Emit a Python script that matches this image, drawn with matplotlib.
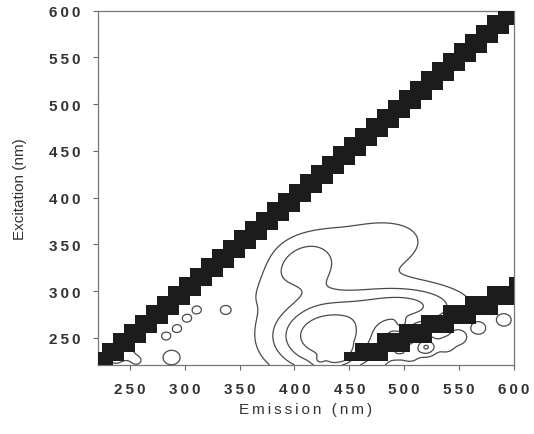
import numpy as np
import matplotlib
matplotlib.use("Agg")
import matplotlib.pyplot as plt
from matplotlib.ticker import FixedLocator, FuncFormatter

plt.rcParams['font.family'] = ['Liberation Sans', 'DejaVu Sans']

# Axis ranges (nm)
em_range = (221, 600)
ex_range = (221, 600)
x_ticks = [250, 300, 350, 400, 450, 500, 550, 600]
y_ticks = [250, 300, 350, 400, 450, 500, 550, 600]

# Fluorescence components: centre (em, ex), widths, amplitude, tilt (deg)
comp_em = [430, 410, 468, 500, 385]
comp_ex = [252, 326, 345, 284, 315]
comp_sem = [32, 20, 45, 35, 40]
comp_sex = [25, 20, 26, 15, 12]
comp_amp = [1.00, 0.30, 0.20, 0.55, 0.10]
comp_tilt = [0, 0, 15, 0, 45]

# Small isolated features (em, ex, amplitude, width)
spot_em = [311, 302, 293, 283, 337, 288, 237, 248, 256, 423, 435, 443, 447,
           495, 506, 520, 538, 568, 591, 550, 498]
spot_ex = [280, 271, 260, 252, 280, 229, 229, 233, 226, 225, 226, 230, 239,
           236, 232, 240, 242, 260, 269, 250, 264]
spot_amp = [0.24, 0.24, 0.24, 0.24, 0.22, 0.22, 0.25, 0.22, 0.2, 0.22, 0.22, 0.4, 0.22,
            0.22, 0.22, 0.5, 0.22, 0.22, 0.2, 0.2, 0.2]
spot_w = [3.5, 3.5, 3.5, 3.5, 3.5, 7, 5, 5, 4, 4.5, 4.5, 4.5, 4, 5, 5, 6, 6, 5, 6, 6, 5]

levels = [0.12, 0.30, 0.50, 0.75]

# Scatter bands: first order (em = ex) and second order (em = 2 ex)
scatter_step = 10
first_order_halfwidth = 10
second_order_halfwidth = 20
second_order_min_ex = 230
second_order_min_em = 450

em = np.linspace(em_range[0], em_range[1], 400)
ex = np.linspace(ex_range[0], ex_range[1], 400)
EM, EX = np.meshgrid(em, ex)

field = np.zeros_like(EM)
for cx, cy, sx, sy, a, t in zip(comp_em, comp_ex, comp_sem, comp_sex, comp_amp, comp_tilt):
    th = np.deg2rad(t)
    dx, dy = EM - cx, EX - cy
    u = dx * np.cos(th) + dy * np.sin(th)
    v = -dx * np.sin(th) + dy * np.cos(th)
    field += a * np.exp(-0.5 * ((u / sx) ** 2 + (v / sy) ** 2))
for cx, cy, a, w in zip(spot_em, spot_ex, spot_amp, spot_w):
    field += a * np.exp(-0.5 * (((EM - cx) / w) ** 2 + ((EX - cy) / w) ** 2))

fig = plt.figure(figsize=(5.34, 4.35), dpi=100)
ax = fig.add_axes([98 / 534, 69 / 435, 416 / 534, 354.3 / 435])

ax.contour(EM, EX, field, levels=levels, colors='#4a4a4a', linewidths=0.9)

cell_c = np.arange(220, 611, scatter_step)
cell_edges = np.append(cell_c - scatter_step / 2, cell_c[-1] + scatter_step / 2)
CE, CX = np.meshgrid(cell_c, cell_c)
band = (np.abs(CE - CX) <= first_order_halfwidth) | \
       ((np.abs(CE - 2 * CX) <= second_order_halfwidth) &
        (CX >= second_order_min_ex) & (CE >= second_order_min_em))
band_vals = np.ma.masked_where(~band, np.ones_like(CE, dtype=float))
ax.pcolormesh(cell_edges, cell_edges, band_vals,
              cmap=matplotlib.colors.ListedColormap(['#1c1c1c']),
              shading='flat', zorder=3, antialiased=True)

ax.set_xlim(*em_range)
ax.set_ylim(*ex_range)

spaced = lambda v, p: '\u2009'.join(str(int(v)))
ax.xaxis.set_major_locator(FixedLocator(x_ticks))
ax.yaxis.set_major_locator(FixedLocator(y_ticks))
ax.xaxis.set_major_formatter(FuncFormatter(spaced))
ax.yaxis.set_major_formatter(FuncFormatter(spaced))
ax.tick_params(direction='out', length=3.5, width=0.8, color='#666666',
               labelsize=11, labelcolor='#333333', pad=9)
for lab in ax.get_xticklabels() + ax.get_yticklabels():
    lab.set_fontweight('bold')
for s in ax.spines.values():
    s.set_color('#777777')
    s.set_linewidth(0.9)

ax.set_xlabel('\u2009'.join('Emission (nm)'), fontsize=11, color='#333333', labelpad=4)
ax.set_ylabel('Excitation (nm)', fontsize=11, color='#333333', labelpad=16)

fig.savefig('out.png', dpi=100)
